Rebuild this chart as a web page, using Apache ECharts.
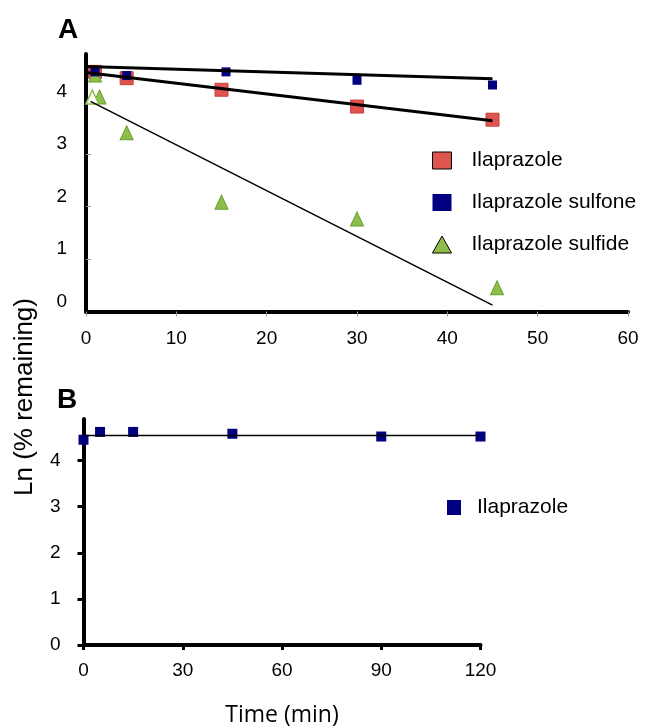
<!DOCTYPE html>
<html>
<head>
<meta charset="utf-8">
<script src="https://cdn.jsdelivr.net/npm/echarts@6/dist/echarts.min.js"></script>
<style>
  html, body { margin: 0; padding: 0; background: #fff; }
  #chart { width: 646px; height: 728px; }
</style>
</head>
<body>
<div id="chart"></div>
<script>
// panel A: ln(% remaining) vs time (min)
const ilapA = [[1, 4.56], [4.5, 4.44], [15, 4.22], [30, 3.90], [45, 3.65]];
const sulfoneA = [[1, 4.56], [4.5, 4.49], [15.5, 4.56], [30, 4.40], [45, 4.31]];
const sulfideA = [[1, 4.50], [1.5, 4.08], [4.5, 3.40], [15, 2.08], [30, 1.76], [45.5, 0.45]];
const sulfideHollowA = [[0.7, 4.08]];
const ilapFitA = [[0, 4.55], [45, 3.63]];
const sulfoneFitA = [[0, 4.66], [45, 4.43]];
const sulfideFitA = [[0.5, 4.0], [45, 0.12]];
const xTicksA = [0, 10, 20, 30, 40, 50, 60];

// panel B
const ilapB = [[0, 4.45], [5, 4.62], [15, 4.62], [45, 4.58], [90, 4.52], [120, 4.52]];
const ilapFitB = [[0, 4.54], [120, 4.54]];
const xTicksB = [0, 30, 60, 90, 120];
const yTicks = [0, 1, 2, 3, 4];

const FONT = '"Liberation Sans", Arial, sans-serif';
const RED = '#E0544F', BLUE = '#000080', GREEN = '#8DBE4A';

const chart = echarts.init(document.getElementById('chart'));

const option = {
  animation: false,
  textStyle: { fontFamily: FONT, color: '#000' },
  grid: [
    { left: 86, top: 54, width: 542, height: 257.5 },
    { left: 83.5, top: 419, width: 397, height: 228 }
  ],
  xAxis: [
    {
      gridIndex: 0, type: 'value', min: 0, max: 60, interval: 10,
      axisLine: { lineStyle: { color: '#000', width: 4 } },
      axisTick: { length: 5, lineStyle: { color: '#999', width: 1 }, customValues: xTicksA },
      axisLabel: { fontSize: 19, color: '#000', margin: 18, fontFamily: FONT, customValues: xTicksA },
      splitLine: { show: false }
    },
    {
      gridIndex: 1, type: 'value', min: 0, max: 120, interval: 30,
      axisLine: { lineStyle: { color: '#000', width: 4 } },
      axisTick: { length: 5, lineStyle: { color: '#000', width: 3 }, customValues: xTicksB },
      axisLabel: { fontSize: 19, color: '#000', margin: 16, fontFamily: FONT, customValues: xTicksB },
      splitLine: { show: false },
      name: 'Time (min)', nameLocation: 'middle', nameGap: 59,
      nameTextStyle: { fontSize: 23, color: '#000', fontFamily: '"Open Sans", sans-serif' }
    }
  ],
  yAxis: [
    {
      gridIndex: 0, type: 'value', min: 0, max: 4.9, interval: 1,
      axisLine: { lineStyle: { color: '#000', width: 4 } },
      axisTick: { inside: true, length: 5, lineStyle: { color: '#999', width: 1 }, customValues: [1, 2, 3, 4] },
      axisLabel: { fontSize: 19, color: '#000', margin: 19, fontFamily: FONT,
        verticalAlign: 'bottom', lineHeight: 20, customValues: yTicks },
      splitLine: { show: false }
    },
    {
      gridIndex: 1, type: 'value', min: 0, max: 4.9, interval: 1,
      axisLine: { lineStyle: { color: '#000', width: 4 } },
      axisTick: { length: 6, lineStyle: { color: '#000', width: 3 }, customValues: yTicks },
      axisLabel: { fontSize: 19, color: '#000', margin: 23, fontFamily: FONT, customValues: yTicks },
      splitLine: { show: false }
    }
  ],
  legend: [
    {
      orient: 'vertical', left: 427, top: 145, itemGap: 21,
      itemWidth: 19, itemHeight: 17,
      textStyle: { fontSize: 21, color: '#000', fontFamily: FONT, padding: [0, 0, 0, 15] },
      data: [
        { name: 'Ilaprazole', icon: 'rect', itemStyle: { color: RED, borderColor: '#000', borderWidth: 1 } },
        { name: 'Ilaprazole sulfone', icon: 'rect', itemStyle: { color: BLUE, borderWidth: 0 } },
        { name: 'Ilaprazole sulfide', icon: 'triangle', itemStyle: { color: GREEN, borderColor: '#000', borderWidth: 1 } }
      ]
    },
    {
      orient: 'vertical', left: 442, top: 492,
      itemWidth: 14, itemHeight: 15,
      textStyle: { fontSize: 21, color: '#000', fontFamily: FONT, padding: [0, 0, 0, 11] },
      data: [{ name: 'Ilaprazole B', icon: 'rect', itemStyle: { color: BLUE, borderWidth: 0 } }],
      formatter: () => 'Ilaprazole'
    }
  ],
  graphic: [
    { type: 'text', x: 58, y: 30, style: { text: 'A', fontSize: 28, fontWeight: 'bold', fill: '#000', fontFamily: FONT, verticalAlign: 'middle' } },
    { type: 'text', x: 57, y: 400, style: { text: 'B', fontSize: 28, fontWeight: 'bold', fill: '#000', fontFamily: FONT, verticalAlign: 'middle' } },
    { type: 'text', x: 25, y: 397, rotation: Math.PI / 2,
      style: { text: 'Ln (% remaining)', fontSize: 26, fill: '#000', fontFamily: FONT, align: 'center', verticalAlign: 'middle' } }
  ],
  series: [
    {
      name: 'Ilaprazole', type: 'scatter', xAxisIndex: 0, yAxisIndex: 0,
      symbol: 'rect', symbolSize: 13, data: ilapA,
      itemStyle: { color: RED, borderColor: '#C8403C', borderWidth: 1, opacity: 1 }
    },
    {
      name: 'Ilaprazole sulfone', type: 'scatter', xAxisIndex: 0, yAxisIndex: 0,
      symbol: 'rect', symbolSize: 9, data: sulfoneA, z: 3,
      itemStyle: { color: BLUE, opacity: 1 }
    },
    {
      name: 'Ilaprazole sulfide', type: 'scatter', xAxisIndex: 0, yAxisIndex: 0,
      symbol: 'triangle', symbolSize: [13, 14], data: sulfideA,
      itemStyle: { color: GREEN, borderColor: '#6A9E30', borderWidth: 1, opacity: 1 }
    },
    {
      type: 'scatter', xAxisIndex: 0, yAxisIndex: 0,
      symbol: 'triangle', symbolSize: [13, 14], data: sulfideHollowA,
      itemStyle: { color: '#fff', borderColor: GREEN, borderWidth: 1.5, opacity: 1 }
    },
    {
      type: 'line', xAxisIndex: 0, yAxisIndex: 0, data: ilapFitA, symbol: 'none', z: 5,
      lineStyle: { color: '#000', width: 3 }
    },
    {
      type: 'line', xAxisIndex: 0, yAxisIndex: 0, data: sulfoneFitA, symbol: 'none', z: 5,
      lineStyle: { color: '#000', width: 3 }
    },
    {
      type: 'line', xAxisIndex: 0, yAxisIndex: 0, data: sulfideFitA, symbol: 'none', z: 5,
      lineStyle: { color: '#000', width: 1.5 }
    },
    {
      name: 'Ilaprazole B', type: 'scatter', xAxisIndex: 1, yAxisIndex: 1,
      symbol: 'rect', symbolSize: 10, data: ilapB,
      itemStyle: { color: BLUE, opacity: 1 }
    },
    {
      type: 'line', xAxisIndex: 1, yAxisIndex: 1, data: ilapFitB, symbol: 'none',
      lineStyle: { color: '#000', width: 1.5 }
    }
  ]
};

chart.setOption(option);
</script>
</body>
</html>
